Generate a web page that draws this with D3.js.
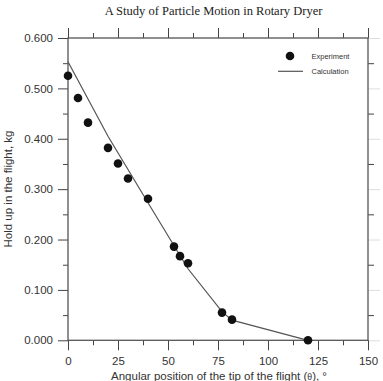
<!DOCTYPE html>
<html>
<head>
    <meta charset="UTF-8">
    <title>Rotary Dryer</title>
    <style>
        body{margin:0;background:#fff;}
        text{font-family:"Liberation Sans",Arial,sans-serif;fill:#333;}
        .domain{stroke:none;}
    </style>
</head>
<body>
    <script src="https://cdn.jsdelivr.net/npm/d3@7"></script>
    <script type="text/javascript">
        // 画布
        var width = 383;
        var height = 381;
        var svg = d3.select("body").append("svg")
            .attr("width",width)
            .attr("height",height);

        // 实验数据
        var expAngle = [0, 5, 10, 20, 25, 30, 40, 53, 56, 60, 77, 82, 120];
        var expHold  = [0.525, 0.481, 0.432, 0.382, 0.351, 0.321, 0.281, 0.186, 0.167, 0.153, 0.055, 0.041, 0.000];
        // 计算曲线
        var calcAngle = [0, 20, 40, 60, 77, 82, 120];
        var calcHold  = [0.553, 0.405, 0.273, 0.142, 0.057, 0.040, 0.000];

        var xMajor = [0, 25, 50, 75, 100, 125, 150];
        var xMinor = [12.5, 37.5, 62.5, 87.5, 112.5, 137.5];
        var yMajor = [0, 0.1, 0.2, 0.3, 0.4, 0.5, 0.6];
        var yMinor = [0.05, 0.15, 0.25, 0.35, 0.45, 0.55];

        var pLeft = 68, pRight = 368, pTop = 38, pBottom = 340.3;
        var frameColor = "#555";

        var x = d3.scaleLinear().domain([0,150]).range([pLeft,pRight]);
        var y = d3.scaleLinear().domain([0,0.6]).range([pBottom,pTop]);

        // 标题
        svg.append("text")
            .attr("x",213.5).attr("y",15)
            .attr("text-anchor","middle")
            .style("font-family","'Liberation Serif','Times New Roman',serif")
            .style("font-size","12.5px")
            .style("fill","#222")
            .text("A Study of Particle Motion in Rotary Dryer");

        // 右侧浅灰线（主刻度）
        svg.append("g")
            .attr("transform","translate("+pRight+",0)")
            .call(d3.axisRight(y).tickValues(yMajor).tickSize(12).tickFormat(""))
            .selectAll("line").attr("stroke","#ddd");
        // 右侧短刻度
        svg.append("g")
            .attr("transform","translate("+pRight+",0)")
            .call(d3.axisRight(y).tickValues(yMinor).tickSize(6).tickFormat(""))
            .selectAll("line").attr("stroke","#444");

        // 左轴
        var gl = svg.append("g")
            .attr("transform","translate("+pLeft+",0)")
            .call(d3.axisLeft(y).tickValues(yMajor).tickSize(10).tickPadding(5).tickFormat(d3.format(".3f")));
        gl.selectAll("line").attr("stroke","#444");
        gl.selectAll("text").style("font-size","11.5px").style("fill","#333");
        svg.append("g")
            .attr("transform","translate("+pLeft+",0)")
            .call(d3.axisLeft(y).tickValues(yMinor).tickSize(5).tickFormat(""))
            .selectAll("line").attr("stroke","#444");

        // 下轴
        var gb = svg.append("g")
            .attr("transform","translate(0,"+pBottom+")")
            .call(d3.axisBottom(x).tickValues(xMajor).tickSize(10).tickPadding(7).tickFormat(d3.format("d")));
        gb.selectAll("line").attr("stroke","#444");
        gb.selectAll("text").style("font-size","11.5px").style("fill","#333");
        svg.append("g")
            .attr("transform","translate(0,"+pBottom+")")
            .call(d3.axisBottom(x).tickValues(xMinor).tickSize(5).tickFormat(""))
            .selectAll("line").attr("stroke","#444");

        // 上轴
        svg.append("g")
            .attr("transform","translate(0,"+pTop+")")
            .call(d3.axisTop(x).tickValues(xMajor).tickSize(10).tickFormat(""))
            .selectAll("line").attr("stroke","#444");
        svg.append("g")
            .attr("transform","translate(0,"+pTop+")")
            .call(d3.axisTop(x).tickValues(xMinor).tickSize(5).tickFormat(""))
            .selectAll("line").attr("stroke","#444");

        // 边框
        svg.append("rect")
            .attr("x",pLeft).attr("y",pTop)
            .attr("width",pRight-pLeft).attr("height",pBottom-pTop)
            .attr("fill","none")
            .attr("stroke",frameColor)
            .attr("stroke-width",1.3);

        // 计算曲线
        var line = d3.line()
            .x(function(d){ return x(d[0]); })
            .y(function(d){ return y(d[1]); });
        svg.append("path")
            .datum(d3.zip(calcAngle, calcHold))
            .attr("d",line)
            .attr("fill","none")
            .attr("stroke","#555")
            .attr("stroke-width",1.2);

        // 实验点
        svg.append("g").selectAll("circle")
            .data(d3.zip(expAngle, expHold))
            .enter().append("circle")
            .attr("cx",function(d){ return x(d[0]); })
            .attr("cy",function(d){ return y(d[1]); })
            .attr("r",4.3)
            .attr("fill","#111");

        // 图例
        svg.append("circle").attr("cx",290).attr("cy",56).attr("r",4.3).attr("fill","#111");
        svg.append("text").attr("x",311.5).attr("y",58.7)
            .style("font-size","7.5px").text("Experiment");
        svg.append("line").attr("x1",278).attr("x2",303).attr("y1",71.3).attr("y2",71.3)
            .attr("stroke","#555").attr("stroke-width",1.2);
        svg.append("text").attr("x",311.5).attr("y",74)
            .style("font-size","7.5px").text("Calculation");

        // 轴标题
        var xt = svg.append("text")
            .attr("x",219).attr("y",380)
            .attr("text-anchor","middle")
            .style("font-size","11.5px")
            .text("Angular position of the tip of the flight ");
        xt.append("tspan").text("(");
        xt.append("tspan")
            .style("font-family","'Liberation Serif',serif")
            .style("font-size","10px")
            .text("θ");
        xt.append("tspan").text("), °");

        svg.append("text")
            .attr("transform","translate(12,189) rotate(-90)")
            .attr("text-anchor","middle")
            .style("font-size","11.5px")
            .text("Hold up in the flight, kg");
    </script>
</body>
</html>
